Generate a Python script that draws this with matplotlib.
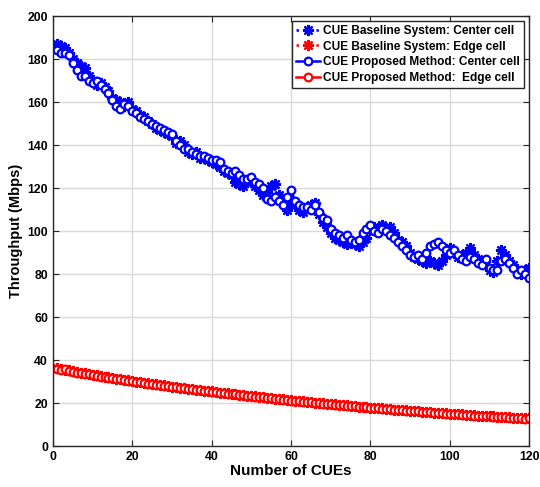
import matplotlib
matplotlib.use("Agg")
import matplotlib.pyplot as plt
import numpy as np

plt.rcParams["font.family"] = ["Liberation Sans", "DejaVu Sans"]
plt.rcParams["font.weight"] = "bold"

n_cues = np.arange(1, 121)

base_center = [
    187, 186, 185, 183, 180, 178, 177, 176, 172, 170,
    168, 169, 167, 165, 162, 161, 160, 158, 160, 157,
    156, 154, 153, 151, 150, 148, 147, 146, 145, 144,
    141, 142, 140, 137, 136, 137, 134, 134, 133, 132,
    131, 130, 128, 127, 126, 123, 122, 121, 123, 124,
    121, 119, 117, 118, 121, 122, 117, 113, 110, 112,
    113, 110, 109, 111, 112, 113, 108, 104, 102, 99,
    97, 96, 95, 94, 95, 94, 93, 95, 97, 101,
    102, 101, 103, 101, 102, 99, 96, 95, 93, 90,
    88, 87, 86, 85, 86, 85, 84, 86, 89, 92,
    90, 88, 89, 90, 92, 89, 87, 85, 84, 82,
    81, 86, 91, 89, 86, 84, 82, 80, 82, 83,
]
prop_center = [
    184, 183, 183, 182, 178, 175, 172, 172, 170, 169,
    170, 168, 166, 164, 161, 158, 157, 159, 158, 156,
    155, 153, 152, 151, 150, 149, 148, 147, 146, 145,
    142, 140, 138, 138, 137, 136, 135, 135, 134, 133,
    133, 132, 129, 128, 127, 128, 126, 124, 124, 125,
    123, 122, 120, 115, 114, 116, 114, 112, 116, 119,
    114, 112, 111, 111, 110, 112, 109, 106, 105, 101,
    99, 98, 97, 98, 96, 95, 96, 99, 101, 103,
    100, 99, 101, 100, 98, 97, 95, 93, 91, 89,
    88, 89, 87, 90, 93, 94, 95, 93, 91, 90,
    91, 89, 87, 86, 88, 87, 85, 84, 87, 83,
    82, 82, 86, 87, 85, 83, 80, 82, 80, 78,
]
base_edge = [
    36.1, 35.9, 35.6, 35.3, 34.8, 34.5, 34.1, 33.8, 33.5, 33.2,
    32.9, 32.6, 32.3, 32.0, 31.7, 31.4, 31.1, 30.8, 30.6, 30.3,
    30.0, 29.7, 29.5, 29.2, 28.9, 28.7, 28.4, 28.2, 27.9, 27.7,
    27.4, 27.2, 26.9, 26.7, 26.5, 26.2, 26.0, 25.8, 25.6, 25.4,
    25.1, 24.9, 24.7, 24.5, 24.3, 24.1, 23.9, 23.7, 23.5, 23.3,
    23.1, 22.9, 22.7, 22.5, 22.3, 22.1, 21.9, 21.7, 21.5, 21.3,
    21.1, 20.9, 20.8, 20.6, 20.4, 20.2, 20.0, 19.9, 19.7, 19.5,
    19.4, 19.2, 19.0, 18.9, 18.7, 18.6, 18.4, 18.2, 18.1, 17.9,
    17.8, 17.6, 17.5, 17.3, 17.2, 17.0, 16.9, 16.7, 16.6, 16.5,
    16.3, 16.2, 16.0, 15.9, 15.8, 15.6, 15.5, 15.4, 15.2, 15.1,
    15.0, 14.8, 14.7, 14.6, 14.5, 14.3, 14.2, 14.1, 14.0, 13.9,
    13.8, 13.6, 13.5, 13.4, 13.3, 13.2, 13.1, 13.0, 12.9, 12.9,
]
prop_edge = [
    35.8, 35.6, 35.9, 35.1, 34.6, 34.2, 34.0, 33.6, 33.3, 33.0,
    32.8, 32.3, 32.2, 31.8, 31.6, 31.2, 31.0, 30.7, 30.5, 30.2,
    29.9, 29.6, 29.3, 29.1, 28.8, 28.5, 28.3, 28.0, 27.8, 27.6,
    27.3, 27.0, 26.8, 26.6, 26.4, 26.1, 25.9, 25.7, 25.5, 25.3,
    25.0, 24.8, 24.6, 24.4, 24.2, 24.0, 23.8, 23.6, 23.4, 23.2,
    23.0, 22.8, 22.6, 22.4, 22.2, 22.0, 21.8, 21.6, 21.4, 21.2,
    21.0, 20.8, 20.7, 20.5, 20.3, 20.1, 19.9, 19.8, 19.6, 19.4,
    19.3, 19.1, 18.9, 18.8, 18.6, 18.5, 18.3, 18.1, 18.0, 17.8,
    17.7, 17.5, 17.4, 17.2, 17.1, 16.9, 16.8, 16.6, 16.5, 16.4,
    16.2, 16.1, 15.9, 15.8, 15.7, 15.5, 15.4, 15.3, 15.1, 15.0,
    14.9, 14.7, 14.6, 14.5, 14.4, 14.2, 14.1, 14.0, 13.9, 13.8,
    13.7, 13.5, 13.4, 13.3, 13.2, 13.1, 13.0, 12.9, 12.8, 12.9,
]

fig = plt.figure(figsize=(5.4, 4.87), dpi=100)
ax = fig.add_axes([0.098, 0.084, 0.882, 0.883])

# MATLAB-like asterisk: 8 spokes
star = dict(ls=":", lw=1.8, marker=(8, 2, 0), ms=8, mew=1.6)
circ = dict(ls="-", lw=1.8, marker="o", ms=5.5, mew=1.6, mfc="white")

ax.plot(n_cues, base_center, color="blue", label="CUE Baseline System: Center cell", **star)
ax.plot(n_cues, base_edge, color="red", label="CUE Baseline System: Edge cell", **star)
ax.plot(n_cues, prop_center, color="blue", label="CUE Proposed Method: Center cell", **circ)
ax.plot(n_cues, prop_edge, color="red", label="CUE Proposed Method:  Edge cell", **circ)

ax.set_xlim(0, 120)
ax.set_ylim(0, 200)
ax.set_xticks(np.arange(0, 121, 20))
ax.set_yticks(np.arange(0, 201, 20))
ax.grid(True, color="#d9d9d9", lw=1)
ax.set_axisbelow(True)
ax.tick_params(direction="in", top=True, right=True, labelsize=8.8, length=4, color="#262626")
for lab in ax.get_xticklabels() + ax.get_yticklabels():
    lab.set_fontweight("bold")
for sp in ax.spines.values():
    sp.set_color("#262626")
    sp.set_linewidth(1)

ax.set_xlabel("Number of CUEs", fontsize=11, fontweight="bold", labelpad=1)
ax.set_ylabel("Throughput (Mbps)", fontsize=10.5, fontweight="bold", labelpad=3)

leg = ax.legend(loc="upper right", fancybox=False, framealpha=1,
                edgecolor="#262626", borderpad=0.35, labelspacing=0.3,
                handlelength=2.0, handletextpad=0.3, borderaxespad=0.4,
                prop={"weight": "bold", "size": 8.6})
leg.get_frame().set_linewidth(1)

fig.savefig("out.png", dpi=100)
